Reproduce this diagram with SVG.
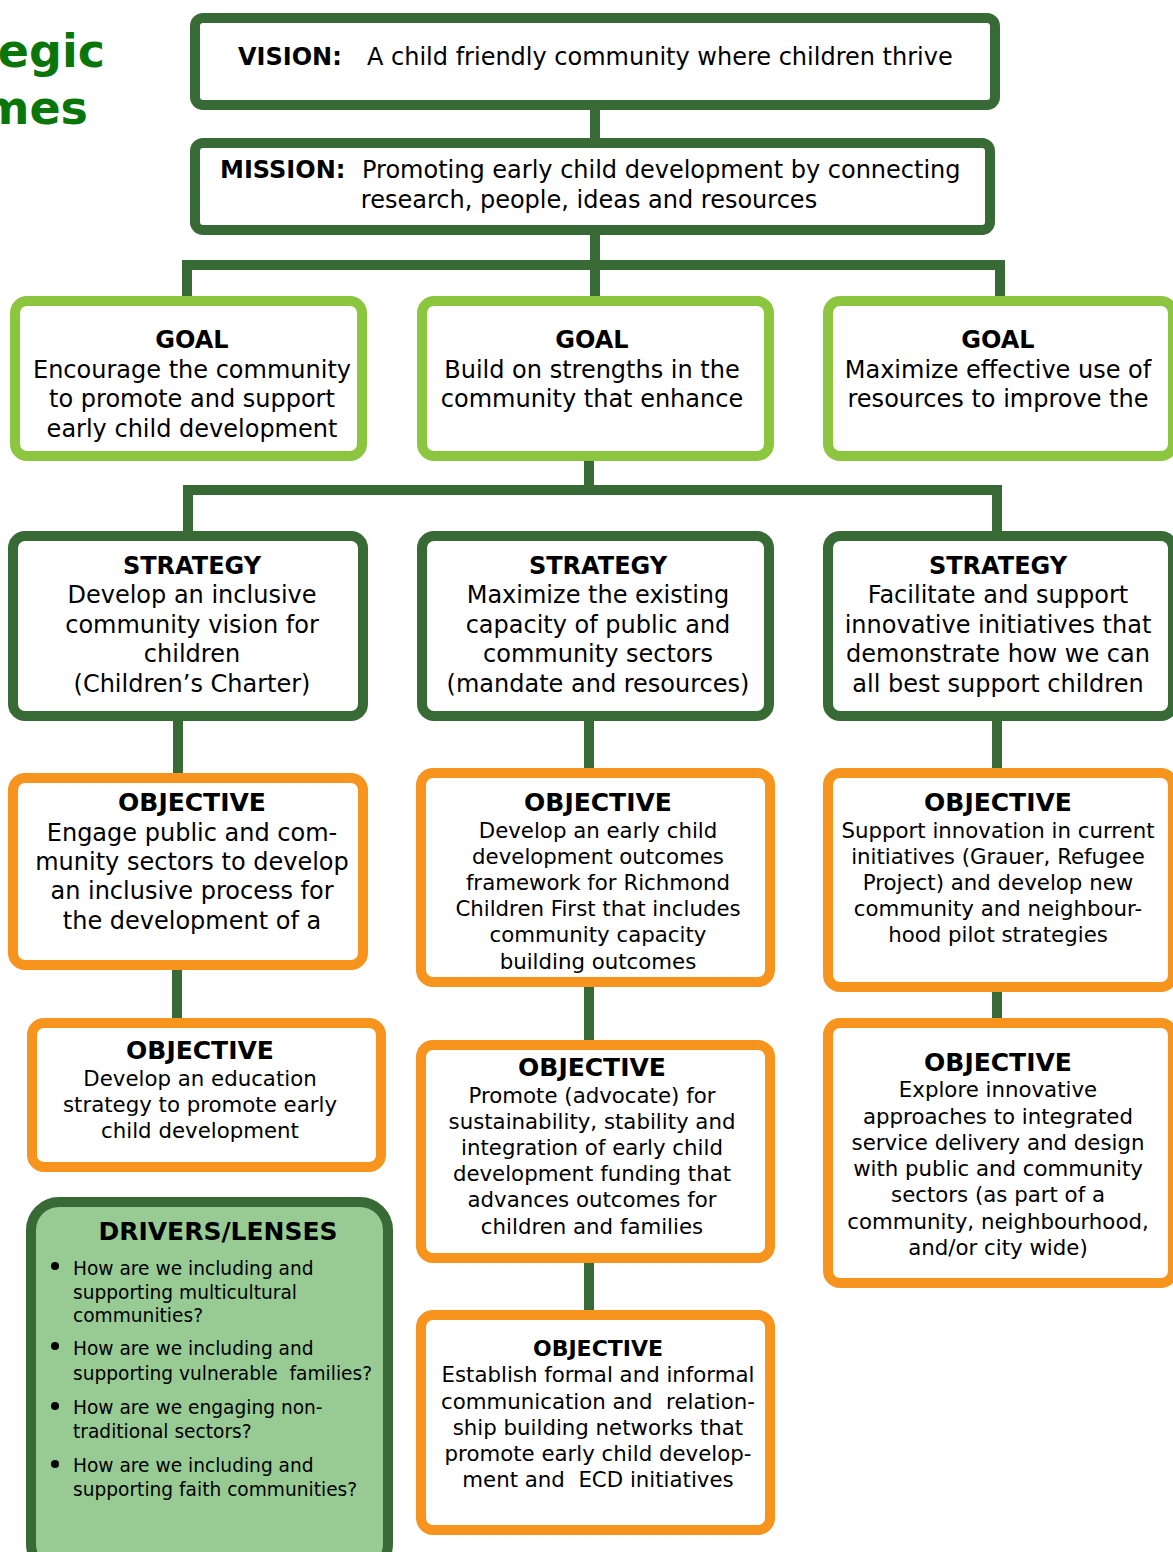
<svg xmlns="http://www.w3.org/2000/svg" width="1173" height="1552" viewBox="0 0 1173 1552">
<style>
text{font-family:"DejaVu Sans",Verdana,sans-serif;fill:#000;text-anchor:middle}
.b{font-weight:bold}
.t24{font-size:24px}
.t25{font-size:25px}
.t21{font-size:21.3px}
.t19{font-size:18.6px}
.pre{white-space:pre}
.vm{fill:#fff;stroke:#376a35;stroke-width:10}
.goal{fill:#fff;stroke:#8cc63f;stroke-width:10}
.strat{fill:#fff;stroke:#376a35;stroke-width:10}
.obj{fill:#fff;stroke:#f7941d;stroke-width:10}
.drv{fill:#98cb93;stroke:#376a35;stroke-width:10}
.con{fill:none;stroke:#376a35;stroke-width:10}
.head{font-family:"DejaVu Sans",Verdana,sans-serif;font-weight:bold;font-size:46px;fill:#0a760a;text-anchor:end}
.li{text-anchor:start}
</style>
<rect width="1173" height="1552" fill="#fff"/>
<g id="title">
<text class="head" x="105" y="67">egic</text>
<text class="head" x="88" y="124">mes</text>
</g>
<g id="connectors">
<path class="con" d="M595 108V140"/>
<path class="con" d="M595 233V298M187 298V265H1000V298"/>
<path class="con" d="M589 459V490M188 533V490H997V533"/>
<path class="con" d="M178 719V775M589 719V770M997 719V770"/>
<path class="con" d="M177 968V1020M589 985V1042M997 990V1020"/>
<path class="con" d="M589 1261V1312"/>
</g>
<g id="vision">
<rect class="vm" x="195" y="18" width="800" height="87" rx="8"/>
<text class="t24 b" x="238" y="65" style="text-anchor:start">VISION:</text>
<text class="t24" x="367" y="65" style="text-anchor:start">A child friendly community where children thrive</text>
</g>
<g id="mission">
<rect class="vm" x="195" y="143" width="795" height="87" rx="8"/>
<text class="t24 b" x="220" y="178" style="text-anchor:start">MISSION:</text>
<text class="t24" x="362" y="178" style="text-anchor:start">Promoting early child development by connecting</text>
<text class="t24" x="589" y="208">research, people, ideas and resources</text>
</g>
<g id="goal1">
<rect class="goal" x="15" y="301" width="347" height="155" rx="12"/>
<text class="t24 b" x="192" y="348">GOAL</text>
<text class="t24" x="192" y="378">Encourage the community</text>
<text class="t24" x="192" y="407">to promote and support</text>
<text class="t24" x="192" y="437">early child development</text>
</g>
<g id="goal2">
<rect class="goal" x="422" y="301" width="347" height="155" rx="12"/>
<text class="t24 b" x="592" y="348">GOAL</text>
<text class="t24" x="592" y="378">Build on strengths in the</text>
<text class="t24" x="592" y="407">community that enhance</text>
</g>
<g id="goal3">
<rect class="goal" x="828" y="301" width="345" height="155" rx="12"/>
<text class="t24 b" x="998" y="348">GOAL</text>
<text class="t24" x="998" y="378">Maximize effective use of</text>
<text class="t24" x="998" y="407">resources to improve the</text>
</g>
<g id="strategy1">
<rect class="strat" x="13" y="536" width="350" height="180" rx="12"/>
<text class="t24 b" x="192" y="574">STRATEGY</text>
<text class="t24" x="192" y="603">Develop an inclusive</text>
<text class="t24" x="192" y="633">community vision for</text>
<text class="t24" x="192" y="662">children</text>
<text class="t24" x="192" y="692">(Children’s Charter)</text>
</g>
<g id="strategy2">
<rect class="strat" x="422" y="536" width="347" height="180" rx="12"/>
<text class="t24 b" x="598" y="574">STRATEGY</text>
<text class="t24" x="598" y="603">Maximize the existing</text>
<text class="t24" x="598" y="633">capacity of public and</text>
<text class="t24" x="598" y="662">community sectors</text>
<text class="t24" x="598" y="692">(mandate and resources)</text>
</g>
<g id="strategy3">
<rect class="strat" x="828" y="536" width="345" height="180" rx="12"/>
<text class="t24 b" x="998" y="574">STRATEGY</text>
<text class="t24" x="998" y="603">Facilitate and support</text>
<text class="t24" x="998" y="633">innovative initiatives that</text>
<text class="t24" x="998" y="662">demonstrate how we can</text>
<text class="t24" x="998" y="692">all best support children</text>
</g>
<g id="objective1">
<rect class="obj" x="13" y="778" width="350" height="187" rx="12"/>
<text class="t25 b" x="192" y="811">OBJECTIVE</text>
<text class="t24" x="192" y="841">Engage public and com-</text>
<text class="t24" x="192" y="870">munity sectors to develop</text>
<text class="t24" x="192" y="899">an inclusive process for</text>
<text class="t24" x="192" y="929">the development of a</text>
</g>
<g id="objective2">
<rect class="obj" x="421" y="773" width="349" height="209" rx="12"/>
<text class="t25 b" x="598" y="811">OBJECTIVE</text>
<text class="t21" x="598" y="838">Develop an early child</text>
<text class="t21" x="598" y="864">development outcomes</text>
<text class="t21" x="598" y="890">framework for Richmond</text>
<text class="t21" x="598" y="916">Children First that includes</text>
<text class="t21" x="598" y="942">community capacity</text>
<text class="t21" x="598" y="969">building outcomes</text>
</g>
<g id="objective3">
<rect class="obj" x="828" y="773" width="345" height="214" rx="12"/>
<text class="t25 b" x="998" y="811">OBJECTIVE</text>
<text class="t21" x="998" y="838">Support innovation in current</text>
<text class="t21" x="998" y="864">initiatives (Grauer, Refugee</text>
<text class="t21" x="998" y="890">Project) and develop new</text>
<text class="t21" x="998" y="916">community and neighbour-</text>
<text class="t21" x="998" y="942">hood pilot strategies</text>
</g>
<g id="objective4">
<rect class="obj" x="32" y="1023" width="349" height="144" rx="12"/>
<text class="t25 b" x="200" y="1059">OBJECTIVE</text>
<text class="t21" x="200" y="1086">Develop an education</text>
<text class="t21" x="200" y="1112">strategy to promote early</text>
<text class="t21" x="200" y="1138">child development</text>
</g>
<g id="objective5">
<rect class="obj" x="421" y="1045" width="349" height="213" rx="12"/>
<text class="t25 b" x="592" y="1076">OBJECTIVE</text>
<text class="t21" x="592" y="1103">Promote (advocate) for</text>
<text class="t21" x="592" y="1129">sustainability, stability and</text>
<text class="t21" x="592" y="1155">integration of early child</text>
<text class="t21" x="592" y="1181">development funding that</text>
<text class="t21" x="592" y="1207">advances outcomes for</text>
<text class="t21" x="592" y="1234">children and families</text>
</g>
<g id="objective6">
<rect class="obj" x="828" y="1023" width="345" height="260" rx="12"/>
<text class="t25 b" x="998" y="1071">OBJECTIVE</text>
<text class="t21" x="998" y="1097">Explore innovative</text>
<text class="t21" x="998" y="1124">approaches to integrated</text>
<text class="t21" x="998" y="1150">service delivery and design</text>
<text class="t21" x="998" y="1176">with public and community</text>
<text class="t21" x="998" y="1202">sectors (as part of a</text>
<text class="t21" x="998" y="1229">community, neighbourhood,</text>
<text class="t21" x="998" y="1255">and/or city wide)</text>
</g>
<g id="objective7">
<rect class="obj" x="421" y="1315" width="349" height="215" rx="12"/>
<text class="b" x="598" y="1356" style="font-size:22px">OBJECTIVE</text>
<text class="t21" x="598" y="1382">Establish formal and informal</text>
<text class="t21 pre" x="598" y="1409">communication and  relation-</text>
<text class="t21" x="598" y="1435">ship building networks that</text>
<text class="t21" x="598" y="1461">promote early child develop-</text>
<text class="t21 pre" x="598" y="1487">ment and  ECD initiatives</text>
</g>
<g id="drivers">
<rect class="drv" x="31" y="1202" width="357" height="370" rx="28"/>
<text class="t25 b" x="218" y="1240">DRIVERS/LENSES</text>
<circle cx="55" cy="1266" r="4"/>
<circle cx="55" cy="1346" r="4"/>
<circle cx="55" cy="1406" r="4"/>
<circle cx="55" cy="1464" r="4"/>
<text class="t19 li" x="73" y="1275">How are we including and</text>
<text class="t19 li" x="73" y="1299">supporting multicultural</text>
<text class="t19 li" x="73" y="1322">communities?</text>
<text class="t19 li" x="73" y="1355">How are we including and</text>
<text class="t19 li pre" x="73" y="1380">supporting vulnerable  families?</text>
<text class="t19 li" x="73" y="1414">How are we engaging non-</text>
<text class="t19 li" x="73" y="1438">traditional sectors?</text>
<text class="t19 li" x="73" y="1472">How are we including and</text>
<text class="t19 li" x="73" y="1496">supporting faith communities?</text>
</g>
</svg>
